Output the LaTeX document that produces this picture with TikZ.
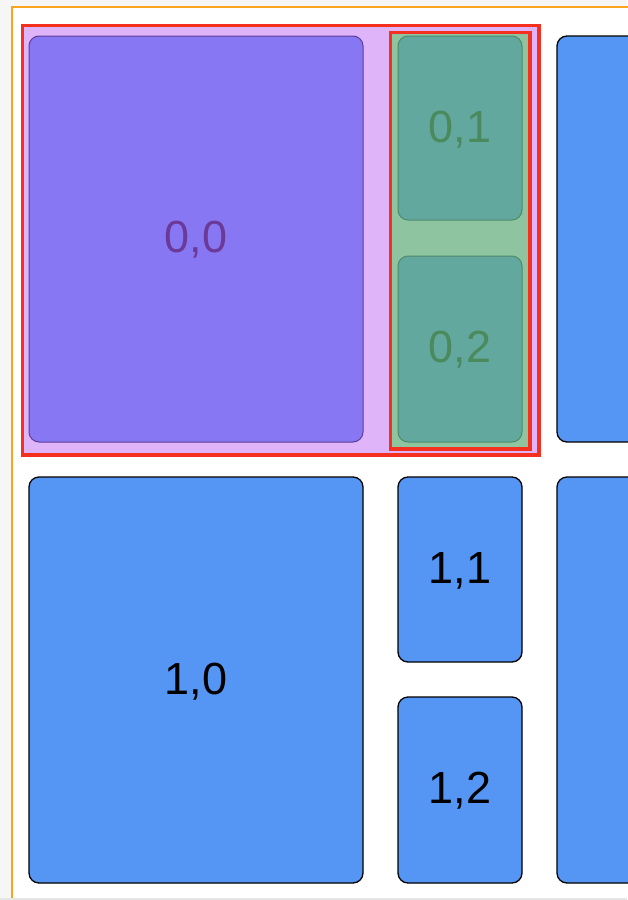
\documentclass[tikz,border=0pt]{standalone}
\usepackage{fontspec}
\setmainfont{Liberation Sans}
\definecolor{bgray}{HTML}{F6F6F6}
\definecolor{bgrayD}{HTML}{E6E6E6}
\definecolor{orangeF}{HTML}{F9A51E}
\definecolor{lilac}{HTML}{DFB4F8}
\definecolor{redB}{HTML}{F5301E}
\definecolor{purpleF}{HTML}{8877F2}
\definecolor{purpleD}{HTML}{5E3E9A}
\definecolor{purpleT}{HTML}{6B3A98}
\definecolor{greenBg}{HTML}{8EC5A0}
\definecolor{tealF}{HTML}{62A89F}
\definecolor{tealD}{HTML}{4F8A6A}
\definecolor{greenT}{HTML}{4A8A5C}
\definecolor{blueF}{HTML}{5596F4}
\begin{document}
\begin{tikzpicture}[x=1pt,y=-1pt,
  cell/.style={draw=black,line width=1.3pt,fill=blueF,rounded corners=10pt},
  pcell/.style={draw=purpleD,line width=1pt,fill=purpleF,rounded corners=10pt},
  gcell/.style={draw=tealD,line width=1pt,fill=tealF,rounded corners=10pt},
  lbl/.style={font=\fontsize{45}{45}\selectfont},
  redframe/.style={draw=redB,line width=3.6pt},
]
\useasboundingbox (0,0) rectangle (627,900);
\fill[bgray] (0,0) rectangle (627,900);
\draw[orangeF,line width=2pt,fill=white] (12,7) rectangle (660,920);
\fill[bgrayD] (0,897.5) rectangle (627,900);
% outer red container
\draw[redframe,fill=lilac] (22.5,25.5) rectangle (539,455);
\draw[pcell] (29,36) rectangle (363,442);
\node[lbl,text=purpleT] (c00) at (196,240) {0,0};
% green column
\draw[redframe,fill=greenBg] (390.5,32.5) rectangle (530,449);
\draw[gcell] (398,36) rectangle (522,220);
\node[lbl,text=greenT] (c01) at (460,130) {0,1};
\draw[gcell] (398,256) rectangle (522,442);
\node[lbl,text=greenT] (c02) at (460,350) {0,2};
% right top
\draw[cell] (557,36) rectangle (680,442);
% bottom row
\draw[cell] (29,477) rectangle (363,883);
\node[lbl] (c10) at (196,682) {1,0};
\draw[cell] (398,477) rectangle (522,662);
\node[lbl] (c11) at (460,571) {1,1};
\draw[cell] (398,697) rectangle (522,883);
\node[lbl] (c12) at (460,791) {1,2};
\draw[cell] (557,477) rectangle (680,883);
\end{tikzpicture}
\end{document}
